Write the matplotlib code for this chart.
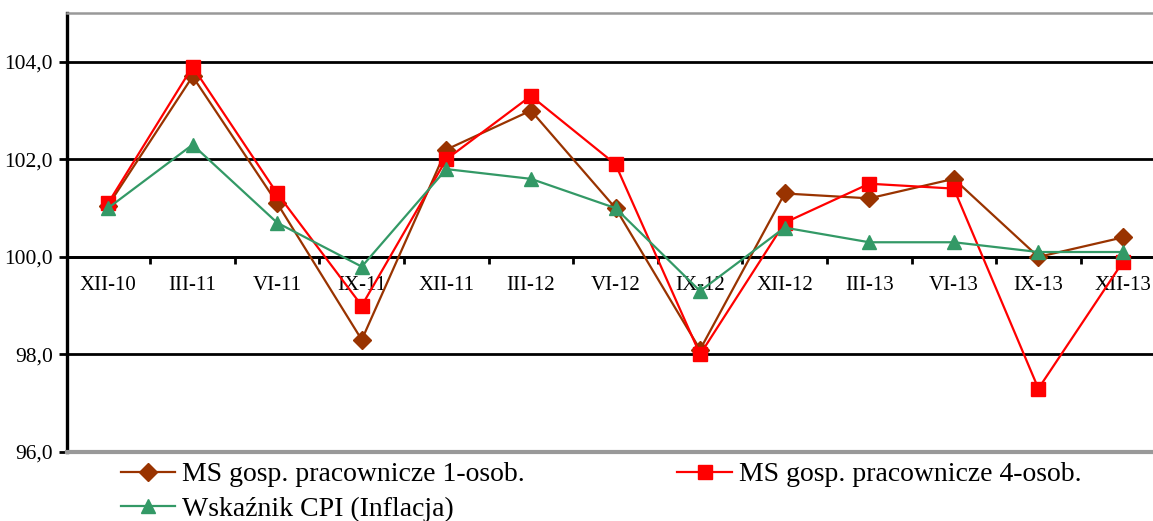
import matplotlib
matplotlib.use("Agg")
import matplotlib.pyplot as plt
from matplotlib.ticker import FixedLocator, FuncFormatter

categories = ["XII-10", "III-11", "VI-11", "IX-11", "XII-11", "III-12", "VI-12",
              "IX-12", "XII-12", "III-13", "VI-13", "IX-13", "XII-13"]
ms_1osob = [101.05, 103.7, 101.1, 98.3, 102.2, 103.0, 101.0, 98.1, 101.3, 101.2, 101.6, 100.0, 100.4]
ms_4osob = [101.1, 103.9, 101.3, 99.0, 102.0, 103.3, 101.9, 98.0, 100.7, 101.5, 101.4, 97.3, 99.9]
cpi = [101.0, 102.3, 100.7, 99.8, 101.8, 101.6, 101.0, 99.3, 100.6, 100.3, 100.3, 100.1, 100.1]
y_ticks = [96.0, 98.0, 100.0, 102.0, 104.0]
labels = ["MS gosp. pracownicze 1-osob.", "MS gosp. pracownicze 4-osob.", "Wskaźnik CPI (Inflacja)"]

plt.rcParams['font.family'] = ['Liberation Serif', 'DejaVu Serif']

W, H = 1153, 521
fig = plt.figure(figsize=(W / 100, H / 100), dpi=100)
left, right, top, bottom = 67, 1164, 13, 452
ax = fig.add_axes([left / W, 1 - bottom / H, (right - left) / W, (bottom - top) / H])

x = list(range(len(categories)))
ax.set_xlim(-0.485, len(categories) - 0.515)
ax.set_ylim(96, 105)

for yv in [98, 100, 102, 104]:
    ax.axhline(yv, color="black", lw=2.0, zorder=1)

l1, = ax.plot(x, ms_1osob, color="#993300", lw=1.6, marker="D", ms=9.5, zorder=3, label=labels[0])
l2, = ax.plot(x, ms_4osob, color="#FF0000", lw=1.6, marker="s", ms=10.5, zorder=4, label=labels[1])
l3, = ax.plot(x, cpi, color="#339966", lw=1.6, marker="^", ms=10.5, zorder=5, label=labels[2])

ax.spines['right'].set_visible(False)
ax.spines['top'].set_color("#999999")
ax.spines['top'].set_linewidth(1.8)
ax.spines['left'].set_linewidth(2.4)
ax.spines['bottom'].set_position(('data', 100))
ax.spines['bottom'].set_linewidth(2.0)
ax.axhline(96, color="#999999", lw=3.0, zorder=6, clip_on=False)

ax.set_yticks(y_ticks)
ax.yaxis.set_major_formatter(FuncFormatter(lambda v, p: f"{v:.1f}".replace(".", ",")))
ax.tick_params(axis='y', direction='out', length=6, width=2, labelsize=15.5, pad=4, colors="black")

ax.set_xticks(x)
ax.set_xticklabels(categories)
ax.xaxis.set_minor_locator(FixedLocator([i + 0.5 for i in range(len(categories) - 1)]))
ax.tick_params(axis='x', which='major', length=0, labelsize=15, pad=14)
ax.tick_params(axis='x', which='minor', direction='out', length=5, width=2)
for lab in ax.get_xticklabels():
    lab.set_zorder(2)

leg = fig.legend([l1, l3, l2], [labels[0], labels[2], labels[1]], ncol=2,
                 loc="upper left", bbox_to_anchor=(118 / W, 1 - 459 / H),
                 frameon=False, fontsize=20, handlelength=1.95, handletextpad=0.25,
                 columnspacing=5.5, labelspacing=0.33, borderaxespad=0, borderpad=0.1)

fig.savefig("out.png", dpi=100)
